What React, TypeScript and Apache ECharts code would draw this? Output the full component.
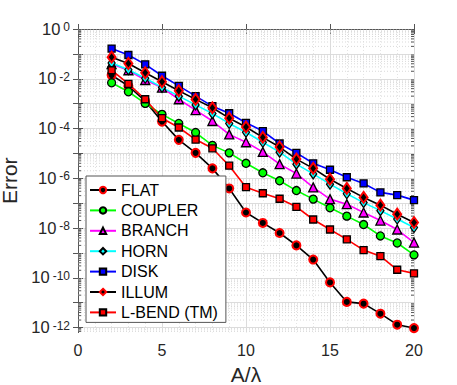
import { useEffect, useRef } from 'react';
import * as echarts from 'echarts';

const X = [2, 3, 4, 5, 6, 7, 8, 9, 10, 11, 12, 13, 14, 15, 16, 17, 18, 19, 20];

const FLAT = [1.4e-2, 5.1e-3, 1.26e-3, 1.9e-4, 3.5e-5, 1.05e-5, 2.5e-6, 3.9e-7, 4.2e-8, 1.6e-8, 6.3e-9, 2.0e-9, 5.4e-10, 6.5e-11, 1.07e-11, 9.1e-12, 3.6e-12, 1.3e-12, 9.5e-13];
const COUPLER = [6.9e-3, 3.0e-3, 1.02e-3, 3.7e-4, 1.6e-4, 6.9e-5, 2.1e-5, 1.05e-5, 4.0e-6, 1.66e-6, 7.9e-7, 3.2e-7, 1.45e-7, 6.5e-8, 3.0e-8, 1.38e-8, 4.8e-9, 2.5e-9, 8.3e-10];
const BRANCH = [3.9e-2, 2.2e-2, 8.9e-3, 4.4e-3, 1.5e-3, 5.5e-4, 2.0e-4, 5.8e-5, 2.8e-5, 1.15e-5, 3.7e-6, 1.55e-6, 4.3e-7, 1.45e-7, 9.1e-8, 4.2e-8, 2.0e-8, 8.7e-9, 2.6e-9];
const HORN = [4.3e-2, 2.3e-2, 1.05e-2, 4.5e-3, 2.0e-3, 8.9e-4, 4.0e-4, 1.6e-4, 7.1e-5, 2.8e-5, 1.12e-5, 3.7e-6, 1.5e-6, 5.8e-7, 2.4e-7, 1.05e-7, 5.0e-8, 2.3e-8, 1.05e-8];
const DISK = [1.64e-1, 9.0e-2, 3.8e-2, 1.32e-2, 5.2e-3, 2.0e-3, 7.9e-4, 4.1e-4, 1.7e-4, 7.9e-5, 2.5e-5, 1.05e-5, 4.0e-6, 2.2e-6, 1.1e-6, 6.2e-7, 2.7e-7, 2.1e-7, 1.32e-7];
const ILLUM = [7.4e-2, 4.1e-2, 1.74e-2, 7.6e-3, 3.3e-3, 1.48e-3, 6.8e-4, 2.6e-4, 1.15e-4, 4.4e-5, 1.8e-5, 5.9e-6, 2.5e-6, 9.1e-7, 3.9e-7, 1.7e-7, 8.3e-8, 3.6e-8, 1.66e-8];
const LBEND = [2.2e-2, 6.2e-3, 1.5e-3, 2.6e-4, 1.1e-4, 3.6e-5, 1.6e-5, 3.2e-6, 4.4e-7, 2.5e-7, 1.5e-7, 7.1e-8, 2.2e-8, 8.7e-9, 3.5e-9, 1.3e-9, 7.4e-10, 2.1e-10, 1.5e-10];

const X_TICKS = [0, 5, 10, 15, 20];
const Y_LABEL_EXP = [-12, -10, -8, -6, -4, -2, 0];
const Y_TICK_EXP = [-12, -11, -10, -9, -8, -7, -6, -5, -4, -3, -2, -1, 0];

const FONT = 'Liberation Sans, Arial, Helvetica, sans-serif';
const Y_MIN = -12.2;
const Y_MAX = 0;

export default function App() {
  const ref = useRef<HTMLDivElement>(null);
  useEffect(() => {
    const chart = echarts.init(ref.current!, null, { renderer: 'svg' });

    const minorVals: number[][] = [];
    for (let n = -13; n < 0; n++) {
      for (let k = 2; k <= 9; k++) {
        const v = n + Math.log10(k);
        if (v > Y_MIN && v < Y_MAX) minorVals.push([0, v]);
      }
    }

    const toData = (vals: number[]) => X.map((x, i) => [x, Math.log10(vals[i])]);

    const mk = (name: string, vals: number[], line: string, symbol: string, size: any, fill: string, edge: string, bw: number) => ({
      type: 'line',
      name,
      data: toData(vals),
      symbol,
      symbolSize: size,
      showAllSymbol: true,
      silent: true,
      z: 3,
      lineStyle: { color: line, width: 1.6 },
      itemStyle: { color: fill, borderColor: edge, borderWidth: bw },
      emphasis: { disabled: true },
    });

    const axisColor = '#555';

    const option: any = {
      animation: false,
      backgroundColor: '#fff',
      textStyle: { fontFamily: FONT },
      grid: { left: 78, top: 29, width: 336, height: 303.5, outerBoundsMode: 'none', containLabel: false },
      legend: {
        orient: 'vertical',
        left: 86,
        top: 176,
        padding: [6, 8, 2, 3],
        itemWidth: 26,
        itemHeight: 8,
        itemGap: 4.4,
        backgroundColor: '#fff',
        borderColor: axisColor,
        borderWidth: 1,
        borderRadius: 0,
        selectedMode: false,
        textStyle: { fontSize: 16, lineHeight: 16, color: '#000', fontFamily: FONT },
        data: ['FLAT', 'COUPLER', 'BRANCH', 'HORN', 'DISK', 'ILLUM', 'L-BEND (TM)'],
      },
      xAxis: [
        {
          type: 'value',
          min: 0,
          max: 20,
          interval: 5,
          name: 'A/λ',
          nameLocation: 'middle',
          nameGap: 27,
          nameTextStyle: { fontSize: 21, lineHeight: 22, color: '#262626', fontFamily: FONT },
          axisLine: { show: true, lineStyle: { color: axisColor, width: 1 } },
          axisTick: { show: true, inside: true, length: 5, lineStyle: { color: axisColor } },
          axisLabel: { fontSize: 16, color: '#262626', margin: 10, fontFamily: FONT, formatter: (v: number) => (X_TICKS.includes(v) ? String(v) : '') },
          splitLine: { show: true, lineStyle: { color: '#dcdcdc', width: 1 } },
          minorTick: { show: false, splitNumber: 5 },
          minorSplitLine: { show: true, lineStyle: { color: '#e4e4e4', type: [1, 2], width: 1 } },
        },
        {
          type: 'value',
          position: 'top',
          min: 0,
          max: 20,
          interval: 5,
          axisLine: { show: true, lineStyle: { color: axisColor, width: 1 } },
          axisTick: { show: true, inside: true, length: 5, lineStyle: { color: axisColor } },
          axisLabel: { show: false },
          splitLine: { show: false },
        },
      ],
      yAxis: [
        {
          type: 'value',
          min: Y_MIN,
          max: Y_MAX,
          name: 'Error',
          nameLocation: 'middle',
          nameGap: 51,
          nameTextStyle: { fontSize: 21, lineHeight: 21, color: '#262626', fontFamily: FONT },
          axisLine: { show: true, lineStyle: { color: axisColor, width: 1 } },
          axisTick: { show: true, inside: true, length: 5, customValues: Y_TICK_EXP, lineStyle: { color: axisColor } },
          axisLabel: {
            customValues: Y_LABEL_EXP,
            margin: 8,
            color: '#262626',
            formatter: (v: number) => `{b|10}{e|${Math.round(v)}}`,
            rich: {
              b: { fontSize: 16.5, lineHeight: 16, verticalAlign: 'bottom', color: '#262626', fontFamily: FONT },
              e: { fontSize: 12, lineHeight: 12, padding: [0, 0, 11, 3], verticalAlign: 'top', color: '#262626', fontFamily: FONT },
            },
          },
          splitLine: { show: true, lineStyle: { color: '#dcdcdc', width: 1 } },
        },
        {
          type: 'value',
          position: 'right',
          min: Y_MIN,
          max: Y_MAX,
          axisLine: { show: true, lineStyle: { color: axisColor, width: 1 } },
          axisTick: { show: true, inside: true, length: 5, customValues: Y_TICK_EXP, lineStyle: { color: axisColor } },
          axisLabel: { show: false },
          splitLine: { show: false },
        },
      ],
      series: [
        {
          type: 'custom',
          silent: true,
          z: 1,
          xAxisIndex: 0,
          yAxisIndex: 0,
          encode: { x: 0, y: 1 },
          data: minorVals,
          renderItem: (params: any, api: any) => {
            const cs = params.coordSys;
            const y = api.coord([0, api.value(1)])[1];
            return {
              type: 'group',
              children: [
                { type: 'line', shape: { x1: cs.x, y1: y, x2: cs.x + cs.width, y2: y }, style: { stroke: '#d9d9d9', lineWidth: 1, lineDash: [1, 2] } },
                { type: 'line', shape: { x1: cs.x, y1: y, x2: cs.x + 3, y2: y }, style: { stroke: axisColor, lineWidth: 1 } },
                { type: 'line', shape: { x1: cs.x + cs.width - 3, y1: y, x2: cs.x + cs.width, y2: y }, style: { stroke: axisColor, lineWidth: 1 } },
              ],
            };
          },
        },
        mk('FLAT', FLAT, '#000000', 'circle', 8, '#000000', '#ff0000', 2),
        mk('COUPLER', COUPLER, '#00ff00', 'circle', 8, '#00ff00', '#000000', 1.3),
        mk('BRANCH', BRANCH, '#ff00ff', 'triangle', 9, '#ff00ff', '#000000', 1.3),
        mk('HORN', HORN, '#00ffff', 'diamond', [7, 10], '#00ffff', '#000000', 1.3),
        mk('DISK', DISK, '#0000ff', 'rect', 7, '#0000ff', '#000000', 1.3),
        mk('ILLUM', ILLUM, '#000000', 'diamond', [8, 11], '#000000', '#ff0000', 2),
        mk('L-BEND (TM)', LBEND, '#ff0000', 'rect', 7, '#ff0000', '#000000', 1.3),
      ],
    };

    chart.setOption(option);
    return () => chart.dispose();
  }, []);

  return <div ref={ref} style={{ position: 'fixed', left: 0, top: 0, width: 457, height: 385, background: '#fff' }} />;
}
